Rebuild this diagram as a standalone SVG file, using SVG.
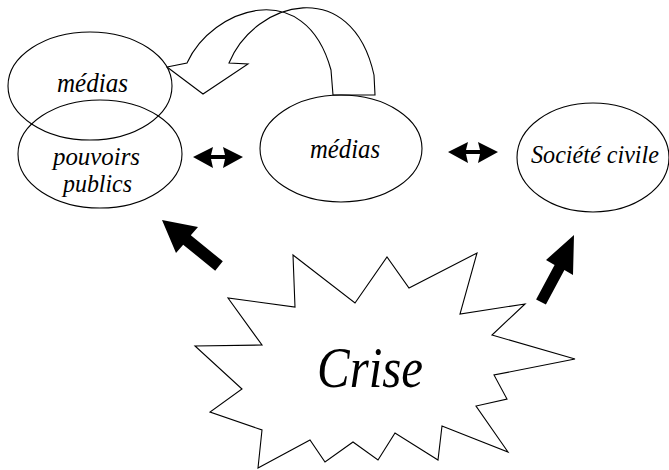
<svg xmlns="http://www.w3.org/2000/svg" width="669" height="470" viewBox="0 0 669 470">
<style>
.n{fill:none;stroke:#000;stroke-width:1.1}
.b{fill:#000;stroke:none}
.t{font-family:"Liberation Serif","DejaVu Serif",serif;font-style:italic;fill:#000}
</style>
<rect width="669" height="470" fill="#fff"/>
<g id="medias-top">
<ellipse class="n" cx="90" cy="86" rx="82" ry="54"/>
<text class="t" x="57" y="92" font-size="27" textLength="71" lengthAdjust="spacingAndGlyphs">médias</text>
</g>
<g id="pouvoirs-publics">
<ellipse class="n" cx="100" cy="154" rx="82" ry="54"/>
<text class="t" x="53" y="165" font-size="26" textLength="87" lengthAdjust="spacingAndGlyphs">pouvoirs</text>
<text class="t" x="63" y="192" font-size="26" textLength="69" lengthAdjust="spacingAndGlyphs">publics</text>
</g>
<g id="medias-center">
<ellipse class="n" cx="341" cy="148.5" rx="81" ry="53.5"/>
<text class="t" x="310" y="158" font-size="27" textLength="70" lengthAdjust="spacingAndGlyphs">médias</text>
</g>
<g id="societe-civile">
<ellipse class="n" cx="593" cy="157.5" rx="76" ry="54.5"/>
<text class="t" x="531" y="163" font-size="25" textLength="128" lengthAdjust="spacingAndGlyphs">Société civile</text>
</g>
<g id="crise">
<polygon class="n" points="293,255 355,303 387,257 409,288 477,253 460,314 525,304 492,335 575,359 494,375 507,399 476,406 508,452 442,426 438,460 395,433 378,460 353,442 325,462 310,440 258,468 262,430 210,412 242,389 195,346 262,345 228,298 295,307"/>
<text class="t" x="317" y="387" font-size="58" textLength="106" lengthAdjust="spacingAndGlyphs">Crise</text>
</g>
<g id="connectors">
<path class="n" d="M229,63 C255,0 352,-25 374,75 L375,95 L333,95 L331,70 C305,-25 212,8 187,63 L167,67 L203,94 L248,64 Z"/>
<path class="b" d="M193,157 L213,147 L211,155 L225,155 L223,147 L243,157 L223,168 L225,159 L211,159 L213,168 Z"/>
<path class="b" d="M448,152 L468,142 L466,150 L480,150 L478,142 L498,152 L478,163 L480,154 L466,154 L468,163 Z"/>
<path class="b" d="M162,220 L198,227 L190.8,235.3 L222.8,261.3 L215.2,270.7 L183.2,244.7 L176,253 Z"/>
<path class="b" d="M574,235 L573,275 L564.4,269.9 L545.9,304.4 L536.1,299.6 L554.6,265.1 L546,260 Z"/>
</g>
</svg>
